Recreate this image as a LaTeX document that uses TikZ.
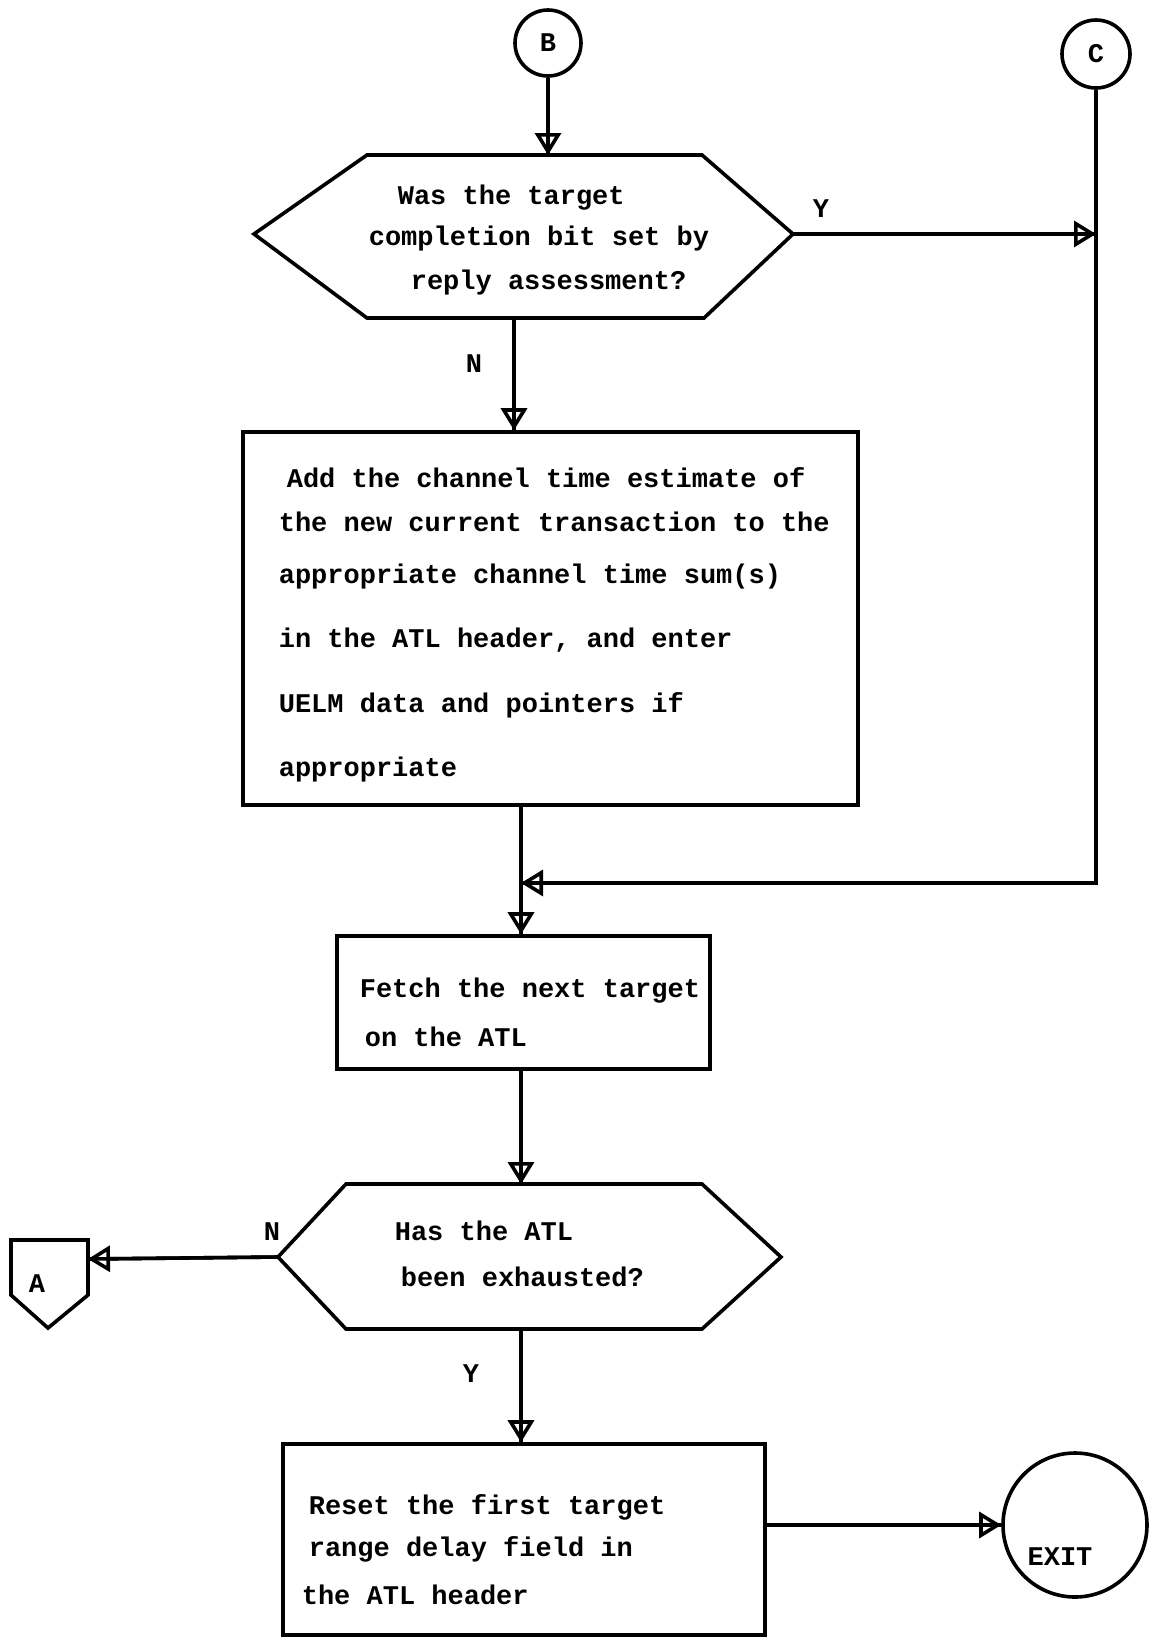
\documentclass[tikz,border=0pt]{standalone}
\usepackage{fontspec}
\setmainfont{Liberation Mono}
\usetikzlibrary{arrows.meta}

\begin{document}
\begin{tikzpicture}[x=0.5pt,y=-0.5pt,line width=1.8pt,
  font=\fontsize{13.5pt}{16pt}\selectfont\bfseries,
  flow/.style={-{Triangle[open,length=11pt,width=13pt]},postaction={draw,-}},
  txt/.style={inner sep=0pt,align=left,anchor=base west},
  box/.style={draw,inner sep=0pt},
  conn/.style={draw,circle,inner sep=0pt}]
  \useasboundingbox (0,0) rectangle (1153,1644);

  % connectors on the page
  \node[conn,minimum size=33pt] (B) at (548,43) {B};
  \node[conn,minimum size=34pt] (C) at (1096,54) {C};

  % first decision
  \draw (254,234) -- (367,155) -- (702,155) -- (793,234) -- (704,318) -- (367,318) -- cycle;
  \coordinate (q1n) at (548,155);
  \coordinate (q1e) at (793,234);
  \coordinate (q1s) at (514,318);
  \node[txt] (t1) at (367,289) {\hspace*{14.5pt}Was the target\\[4.5pt]completion bit set by\\[6pt]\hspace*{21pt}reply assessment?};
  \node (y1) at (821,209) {Y};
  \node (n1) at (474,364) {N};

  \node[box,minimum width=307.5pt,minimum height=186.5pt] (box1) at (550.5,618.5) {};
  \node[txt] (t2) at (277,776) {\hspace*{4pt}Add the channel time estimate of\\[6pt]the new current transaction to the\\[10pt]appropriate channel time sum(s)\\[16pt]in the ATL header, and enter\\[16.5pt]UELM data and pointers if\\[16pt]appropriate};

  \coordinate (merge) at (521,883);
  \node[box,minimum width=186.5pt,minimum height=66.5pt] (box2) at (523.5,1002.5) {};
  \node[txt] (t3) at (358,1046) {Fetch the next target\\[8.5pt]\hspace*{2.5pt}on the ATL};

  % second decision
  \draw (278,1257) -- (346,1184) -- (702,1184) -- (781,1257) -- (702,1329) -- (346,1329) -- cycle;
  \coordinate (q2n) at (521,1184);
  \coordinate (q2w) at (278,1257);
  \coordinate (q2s) at (521,1329);
  \node[txt] (t4) at (393,1286) {Has the ATL\\[7pt]\hspace*{3pt}been exhausted?};
  \node (n2) at (272,1232) {N};
  \node (y2) at (471,1374) {Y};

  % off-page connector A
  \draw (11,1240) -- (88,1240) -- (88,1295) -- (48,1328) -- (11,1295) -- cycle;
  \coordinate (aE) at (88,1259);
  \node (lblA) at (37,1284) {A};

  \node[box,minimum width=241pt,minimum height=95.5pt] (box3) at (524,1539.5) {};
  \node[txt] (t5) at (300,1604) {\hspace*{3.5pt}Reset the first target\\[5pt]\hspace*{3.5pt}range delay field in\\[8pt]the ATL header};

  \node[conn,minimum size=72pt] (exit) at (1075,1525) {};
  \node (exitlbl) at (1060,1557) {EXIT};

  % flow lines
  \draw[flow] (B) -- (q1n);
  \draw[flow] (q1e) -- (q1e -| C);
  \draw[flow] (C) |- (merge);
  \draw[flow] (q1s) -- (q1s |- box1.north);
  \draw[flow] (box1.south -| merge) -- (box2.north -| merge);
  \draw[flow] (box2.south -| q2n) -- (q2n);
  \draw[flow] (q2w) -- (aE);
  \draw[flow] (q2s) -- (q2s |- box3.north);
  \draw[flow] (box3.east |- exit.west) -- (exit.west);
\end{tikzpicture}
\end{document}
